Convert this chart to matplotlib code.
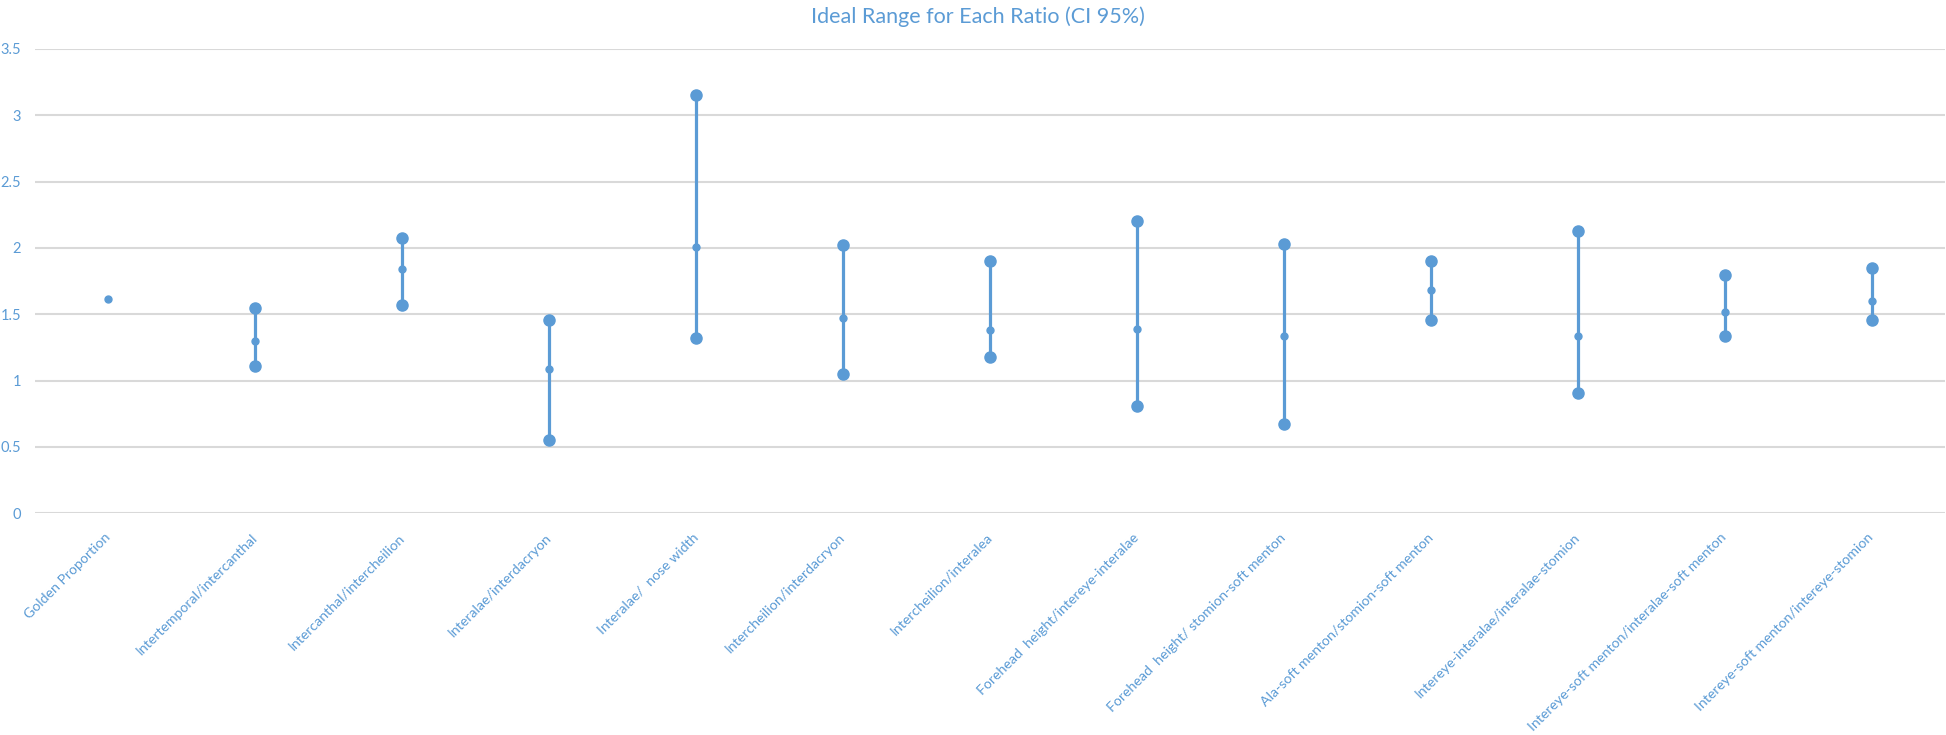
import numpy as np
import matplotlib
matplotlib.use("Agg")
import matplotlib.pyplot as plt

categories = [
    "Golden Proportion",
    "Intertemporal/intercanthal",
    "Intercanthal/intercheilion",
    "Interalae/interdacryon",
    "Interalae/  nose width",
    "Intercheilion/interdacryon",
    "Intercheilion/interalea",
    "Forehead  height/intereye-interalae",
    "Forehead  height/ stomion-soft menton",
    "Ala-soft menton/stomion-soft menton",
    "Intereye-interalae/interalae-stomion",
    "Intereye-soft menton/interalae-soft menton",
    "Intereye-soft menton/intereye-stomion",
]
upper = [np.nan, 1.55, 2.075, 1.457, 3.15, 2.02, 1.90, 2.205, 2.03, 1.90, 2.125, 1.80, 1.85]
mean = [1.618, 1.30, 1.84, 1.09, 2.01, 1.47, 1.38, 1.39, 1.34, 1.68, 1.34, 1.52, 1.60]
lower = [np.nan, 1.11, 1.57, 0.55, 1.325, 1.05, 1.18, 0.81, 0.67, 1.455, 0.905, 1.34, 1.455]
yticks = [0, 0.5, 1, 1.5, 2, 2.5, 3, 3.5]
ytick_labels = ["0", "0.5", "1", "1.5", "2", "2.5", "3", "3.5"]
title = "Ideal Range for Each Ratio (CI 95%)"

blue = "#5B9BD5"
grid = "#D9D9D9"
plt.rcParams["font.family"] = ["Lato", "DejaVu Sans"]

W, H = 1946, 735
fig = plt.figure(figsize=(W / 100, H / 100), dpi=100)
left, right, top, bottom = 35, 1945, 49, 513.3
ax = fig.add_axes([left / W, 1 - bottom / H, (right - left) / W, (bottom - top) / H])

x = np.arange(len(categories))
up = np.array(upper, dtype=float)
lo = np.array(lower, dtype=float)
mn = np.array(mean, dtype=float)
ok = ~np.isnan(up)
ax.vlines(x[ok], lo[ok], up[ok], color=blue, lw=2.3, zorder=3)
ax.plot(x[ok], up[ok], "o", color=blue, ms=8, ls="none", zorder=4)
ax.plot(x[ok], lo[ok], "o", color=blue, ms=8, ls="none", zorder=4)
ax.plot(x, mn, "o", color=blue, ms=5, ls="none", zorder=4)

ax.set_xlim(-0.5, len(categories) - 0.5)
ax.set_ylim(0, 3.5)
ax.set_yticks(yticks)
ax.set_yticklabels(ytick_labels)
for yv in yticks:
    ax.axhline(yv, color=grid, lw=1.5, zorder=1)
for s in ax.spines.values():
    s.set_visible(False)
ax.tick_params(axis="both", length=0, colors=blue)
ax.tick_params(axis="y", pad=10, labelsize=10.5)
ax.set_xticks(x)
ax.set_xticklabels(categories, rotation=45, ha="right", rotation_mode="anchor", va="center")
ax.tick_params(axis="x", pad=16, labelsize=10.2)

fig.text(978 / W, 1 - 17 / H, title, color=blue, fontsize=15.5, ha="center", va="center")
fig.savefig("out.png", dpi=100, facecolor="white")
